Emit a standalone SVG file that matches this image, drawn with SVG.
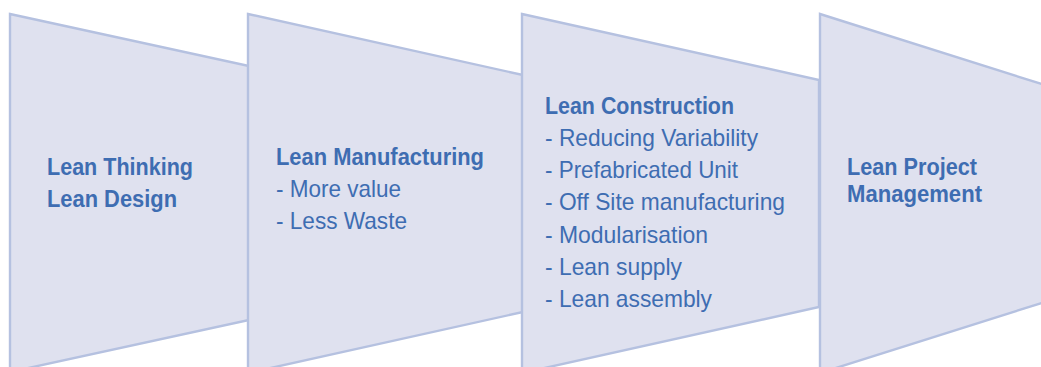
<svg xmlns="http://www.w3.org/2000/svg" width="1041" height="367" viewBox="0 0 1041 367">
  <style>
    .stage { fill: #dfe1ef; stroke: #b5c1e0; stroke-width: 2.4; stroke-linejoin: miter; }
    .title { font-family: "Liberation Sans", Arial, sans-serif; font-weight: bold; font-size: 23.5px; fill: #3e6db2; }
    .item { font-family: "Liberation Sans", Arial, sans-serif; font-size: 24px; fill: #3e6db2; }
  </style>
  <rect width="1041" height="367" fill="#ffffff"/>

  <!-- Stage 1 -->
  <g id="lean-thinking">
    <polygon class="stage" points="10,14 249,66 249,320 10,372"/>
    <text class="title" x="47" y="175" textLength="146" lengthAdjust="spacingAndGlyphs">Lean Thinking</text>
    <text class="title" x="47" y="207" textLength="130" lengthAdjust="spacingAndGlyphs">Lean Design</text>
  </g>

  <!-- Stage 2 -->
  <g id="lean-manufacturing">
    <polygon class="stage" points="248,14 523,75 523,312 248,373"/>
    <text class="title" x="276" y="165" textLength="208" lengthAdjust="spacingAndGlyphs">Lean Manufacturing</text>
    <text class="item" x="276" y="197" textLength="125" lengthAdjust="spacingAndGlyphs">- More value</text>
    <text class="item" x="276" y="229" textLength="131" lengthAdjust="spacingAndGlyphs">- Less Waste</text>
  </g>

  <!-- Stage 3 -->
  <g id="lean-construction">
    <polygon class="stage" points="522,14 819,80 819,307 522,373"/>
    <text class="title" x="545" y="114" textLength="189" lengthAdjust="spacingAndGlyphs">Lean Construction</text>
    <text class="item" x="545" y="146" textLength="213" lengthAdjust="spacingAndGlyphs">- Reducing Variability</text>
    <text class="item" x="545" y="178" textLength="193" lengthAdjust="spacingAndGlyphs">- Prefabricated Unit</text>
    <text class="item" x="545" y="210" textLength="240" lengthAdjust="spacingAndGlyphs">- Off Site manufacturing</text>
    <text class="item" x="545" y="243" textLength="163" lengthAdjust="spacingAndGlyphs">- Modularisation</text>
    <text class="item" x="545" y="275" textLength="137" lengthAdjust="spacingAndGlyphs">- Lean supply</text>
    <text class="item" x="545" y="307" textLength="167" lengthAdjust="spacingAndGlyphs">- Lean assembly</text>
  </g>

  <!-- Stage 4 -->
  <g id="lean-project-management">
    <polygon class="stage" points="820,14 1048,86 1048,301 820,373"/>
    <text class="title" x="847" y="175" textLength="130" lengthAdjust="spacingAndGlyphs">Lean Project</text>
    <text class="title" x="847" y="202" textLength="135" lengthAdjust="spacingAndGlyphs">Management</text>
  </g>

  <!-- no connectors: stages touch edge to edge -->
  <g id="connectors"/>
</svg>
